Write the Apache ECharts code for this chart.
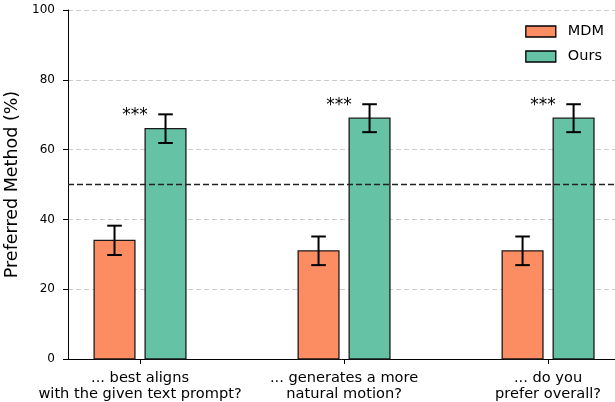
<!DOCTYPE html>
<html><head><meta charset="utf-8">
<script src="https://cdn.jsdelivr.net/npm/echarts@6/dist/echarts.min.js"></script>
<style>html,body{margin:0;padding:0;background:#fff}#c{width:615px;height:402px}</style>
</head><body><div id="c"></div>
<script>
const categories = ['... best aligns\nwith the given text prompt?', '... generates a more\nnatural motion?', '... do you\nprefer overall?'];
const seriesNames = ['MDM', 'Ours'];
const mdmValues = [34, 31, 31];
const mdmErrors = [4.2, 4.1, 4.1];
const oursValues = [66, 69, 69];
const oursErrors = [4.1, 4.0, 4.0];
const significance = ['***', '***', '***'];
const referenceLine = 50;
const colors = ['#fc8d62', '#66c2a5'];

const BAR_W = 0.2, OFFSET = 0.125;
const FONT = 'DejaVu Sans';

function barSeries(name, values, color, off) {
  return {
    name, type: 'custom',
    itemStyle: { color, borderColor: '#000', borderWidth: 1.3 },
    data: values.map((v, i) => [i + off, v]),
    renderItem(params, api) {
      const x = api.value(0), v = api.value(1);
      const p0 = api.coord([x - BAR_W / 2, 0]);
      const p1 = api.coord([x + BAR_W / 2, v]);
      return { type: 'rect', shape: { x: p0[0], y: p1[1], width: p1[0] - p0[0], height: p0[1] - p1[1] },
        style: { fill: color, stroke: '#1a1a1a', lineWidth: 1.3 } };
    },
    z: 2
  };
}
function errSeries(values, errs, off) {
  return {
    type: 'custom', silent: true,
    data: values.map((v, i) => [i + off, v - errs[i], v + errs[i]]),
    renderItem(params, api) {
      const x = api.value(0);
      const lo = api.coord([x, api.value(1)]), hi = api.coord([x, api.value(2)]);
      const cw = 7.3;
      const st = { stroke: '#000', lineWidth: 2 };
      return { type: 'group', children: [
        { type: 'line', shape: { x1: lo[0], y1: lo[1], x2: hi[0], y2: hi[1] }, style: st },
        { type: 'line', shape: { x1: lo[0] - cw, y1: lo[1], x2: lo[0] + cw, y2: lo[1] }, style: st },
        { type: 'line', shape: { x1: hi[0] - cw, y1: hi[1], x2: hi[0] + cw, y2: hi[1] }, style: st }
      ]};
    },
    z: 3
  };
}

const chart = echarts.init(document.getElementById('c'), null, { renderer: 'canvas' });
chart.setOption({
  animation: false,
  backgroundColor: '#fff',
  textStyle: { fontFamily: FONT },
  grid: { left: 68, right: 0, top: 10, bottom: 43, outerBoundsMode: 'none', containLabel: false },
  legend: {
    data: seriesNames.map((n, i) => ({ name: n, icon: 'rect', itemStyle: { color: colors[i], borderColor: '#000', borderWidth: 1.3 } })),
    orient: 'vertical', right: 11, top: 24, padding: 0, itemWidth: 30, itemHeight: 11, itemGap: 10,
    textStyle: { fontFamily: FONT, fontSize: 14.5, color: '#000', lineHeight: 12, padding: [0, 0, 0, 7] }, selectedMode: false
  },
  xAxis: {
    type: 'value', min: -0.353, max: 2.328,
    axisLine: { onZero: false, lineStyle: { color: '#000', width: 1 } },
    axisTick: { show: true, customValues: [0, 1, 2], length: 5, lineStyle: { color: '#000' } },
    axisLabel: { customValues: [0, 1, 2], formatter: v => categories[Math.round(v)], fontFamily: FONT, fontSize: 14.6, color: '#000', lineHeight: 16, margin: 11 },
    splitLine: { show: false }
  },
  yAxis: {
    type: 'value', min: 0, max: 100, interval: 20,
    name: 'Preferred Method (%)', nameLocation: 'middle', nameGap: 38,
    nameTextStyle: { fontFamily: FONT, fontSize: 17.5, color: '#000' },
    axisLine: { show: true, onZero: false, lineStyle: { color: '#000', width: 1 } },
    axisTick: { show: true, length: 5, lineStyle: { color: '#000' } },
    axisLabel: { fontFamily: FONT, fontSize: 12, color: '#000', margin: 13 },
    splitLine: { show: true, lineStyle: { color: '#cccccc', type: [5, 3], width: 1 } }
  },
  series: [
    Object.assign(barSeries(seriesNames[0], mdmValues, colors[0], -OFFSET), {
      markLine: { silent: true, symbol: 'none', label: { show: false },
        lineStyle: { color: '#222', type: [6, 3], width: 1.4 }, data: [{ yAxis: referenceLine }] }
    }),
    barSeries(seriesNames[1], oursValues, colors[1], OFFSET),
    errSeries(mdmValues, mdmErrors, -OFFSET),
    errSeries(oursValues, oursErrors, OFFSET),
    {
      type: 'custom', silent: true,
      data: oursValues.map((v, i) => [i - 0.025, v + oursErrors[i], significance[i]]),
      renderItem(params, api) {
        const p = api.coord([api.value(0), api.value(1)]);
        return { type: 'text', x: p[0], y: p[1] + 1, style: { text: significance[params.dataIndex], fontFamily: FONT, fontSize: 17, fill: '#000', align: 'center', verticalAlign: 'middle' } };
      },
      z: 4
    }
  ]
});
</script></body></html>
